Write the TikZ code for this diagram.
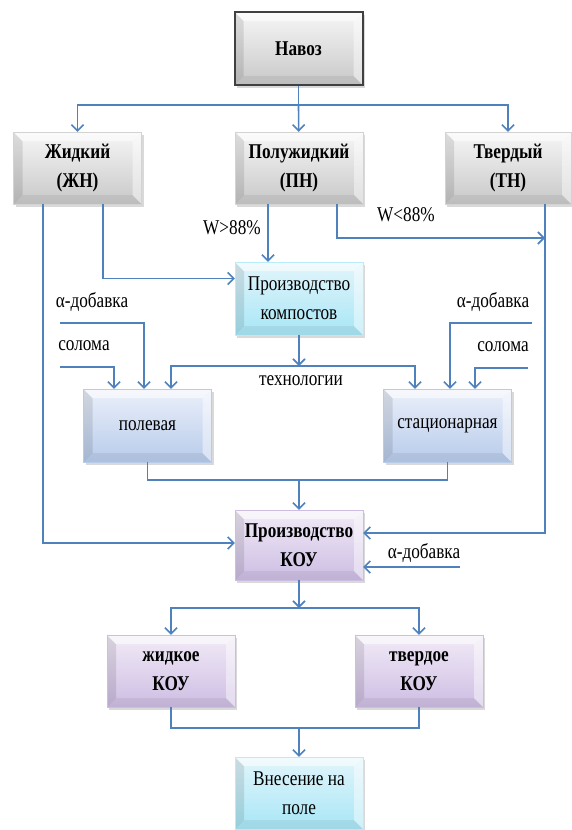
\documentclass[tikz,border=0pt]{standalone}
\usepackage{fontspec}
\setmainfont{Liberation Serif}[BoldFont={Liberation Serif Bold},FakeStretch=0.82]
\usepackage{tikz}
\usetikzlibrary{arrows.meta,positioning,calc,shadows}
\definecolor{LineBlue}{HTML}{4F81BD}
\definecolor{GrayTop}{HTML}{F6F6F6}
\definecolor{GrayBot}{HTML}{C8C8C8}
\definecolor{CyanTop}{HTML}{E2F5FB}
\definecolor{CyanBot}{HTML}{A8E6F6}
\definecolor{BlueTop}{HTML}{EBF0FA}
\definecolor{BlueBot}{HTML}{B7CBEA}
\definecolor{PurpTop}{HTML}{F1EBF7}
\definecolor{PurpBot}{HTML}{CDBDE3}

\begin{document}
\begin{tikzpicture}[x=1pt,y=-1pt,
  bevel/.style={path picture={
    \fill[black,opacity=.10] (path picture bounding box.north west) -- (path picture bounding box.south west)
      -- ([xshift=9pt,yshift=9pt]path picture bounding box.south west) -- ([xshift=9pt,yshift=-9pt]path picture bounding box.north west) -- cycle;
    \fill[white,opacity=.45] (path picture bounding box.north east) -- (path picture bounding box.south east)
      -- ([xshift=-9pt,yshift=9pt]path picture bounding box.south east) -- ([xshift=-9pt,yshift=-9pt]path picture bounding box.north east) -- cycle;
    \fill[white,opacity=.55] (path picture bounding box.north west) -- (path picture bounding box.north east)
      -- ([xshift=-9pt,yshift=-9pt]path picture bounding box.north east) -- ([xshift=9pt,yshift=-9pt]path picture bounding box.north west) -- cycle;
    \fill[black,opacity=.06] (path picture bounding box.south west) -- (path picture bounding box.south east)
      -- ([xshift=-9pt,yshift=9pt]path picture bounding box.south east) -- ([xshift=9pt,yshift=9pt]path picture bounding box.south west) -- cycle;}},
  box/.style={rectangle,minimum width=128pt,minimum height=72pt,align=center,
              font=\fontsize{21}{29}\selectfont,bevel,
              drop shadow={shadow xshift=2pt,shadow yshift=-3pt,opacity=.3}},
  grbox/.style={box,draw=GrayBot!80,top color=GrayTop,bottom color=GrayBot,font=\fontsize{21}{29}\selectfont\bfseries},
  navbox/.style={grbox,draw=black!75,line width=2pt},
  cybox/.style={box,draw=CyanBot!80,top color=CyanTop,bottom color=CyanBot},
  blbox/.style={box,draw=BlueBot,top color=BlueTop,bottom color=BlueBot},
  pubox/.style={box,draw=PurpBot,top color=PurpTop,bottom color=PurpBot,font=\fontsize{21}{29}\selectfont\bfseries},
  ln/.style={line width=1.6pt,LineBlue},
  arr/.style={ln,-{Straight Barb[length=6pt,width=12pt,line width=1.6pt]}},
  lbl/.style={font=\fontsize{21}{22}\selectfont,inner sep=0pt}]
\useasboundingbox (0,0) rectangle (571,830);

% boxes
\node[navbox,minimum height=73pt] (nav) at (298.5,48.5) {Навоз};
\node[grbox] (zh) at (77.5,168) {Жидкий\\(ЖН)};
\node[grbox] (pzh) at (299,168) {Полужидкий\\(ПН)};
\node[grbox,minimum width=126pt] (tv) at (508,168) {Твердый\\(ТН)};
\node[cybox,minimum height=73pt] (komp) at (299,298.5) {Производство\\компостов};
\node[blbox,minimum height=73pt] (pol) at (147.5,425.5) {полевая};
\node[blbox,minimum height=73pt] (stat) at (447.5,425.5) {стационарная};
\node[pubox,minimum height=70pt] (kou) at (299,545) {Производство\\КОУ};
\node[pubox] (zk) at (171,671) {жидкое\\КОУ};
\node[pubox] (tk) at (419,671) {твердое\\КОУ};
\node[cybox] (vn) at (299,793) {Внесение на\\поле};

% free ends
\coordinate (spl) at (298.5,105);
\coordinate (tvj) at (545,238);
\coordinate (tech) at (299,366);
\coordinate (adl) at (60,323);
\coordinate (sol) at (60,367);
\coordinate (adr) at (532,323);
\coordinate (sor) at (528,368);
\coordinate (mrg) at (299,480);
\coordinate (adk) at (460,567);
\coordinate (spl2) at (299,608);
\coordinate (mrg2) at (299,728);

% connectors
\draw[ln] (nav) -- (spl);
\draw[arr] (spl) -- (pzh);
\draw[arr] (spl) -| (zh);
\draw[arr] (spl) -| (tv);
\draw[arr] ([xshift=-34.5pt]zh.south) |- ([yshift=2pt]kou.west);
\draw[arr] ([xshift=25.5pt]zh.south) |- ([yshift=20pt]komp.west);
\draw[arr] ([xshift=-31pt]pzh.south) -- ([xshift=-31pt]komp.north);
\draw[arr] ([xshift=38pt]pzh.south) |- (tvj);
\draw[arr] ([xshift=37pt]tv.south) |- ([yshift=12pt]kou.east);
\draw[arr] (komp) -- (tech);
\draw[arr] (tech) -| ([xshift=23.5pt]pol.north);
\draw[arr] (tech) -| ([xshift=-32.5pt]stat.north);
\draw[arr] (adl) -| ([xshift=-3.5pt]pol.north);
\draw[arr] (sol) -| ([xshift=-33.5pt]pol.north);
\draw[arr] (adr) -| ([xshift=2.5pt]stat.north);
\draw[arr] (sor) -| ([xshift=27.5pt]stat.north);
\draw[ln] (pol) |- (mrg) -| (stat);
\draw[arr] (mrg) -- (kou);
\draw[arr] (adk) -- (adk -| kou.east);
\draw[arr] (kou) -- (spl2);
\draw[arr] (spl2) -| (zk);
\draw[arr] (spl2) -| (tk);
\draw[ln] (zk) |- (mrg2) -| (tk);
\draw[arr] (mrg2) -- (vn);

% labels
\node[lbl] (wgt) at (232,228) {W>88\%};
\node[lbl] (wlt) at (406,215) {W<88\%};
\node[lbl] (tadl) at (92,302) {α-добавка};
\node[lbl] (tsol) at (84,346) {солома};
\node[lbl] (tadr) at (493,302) {α-добавка};
\node[lbl] (tsor) at (503,347) {солома};
\node[lbl] (ttech) at (301,381) {технологии};
\node[lbl] (tadk) at (424,553) {α-добавка};
\end{tikzpicture}
\end{document}
